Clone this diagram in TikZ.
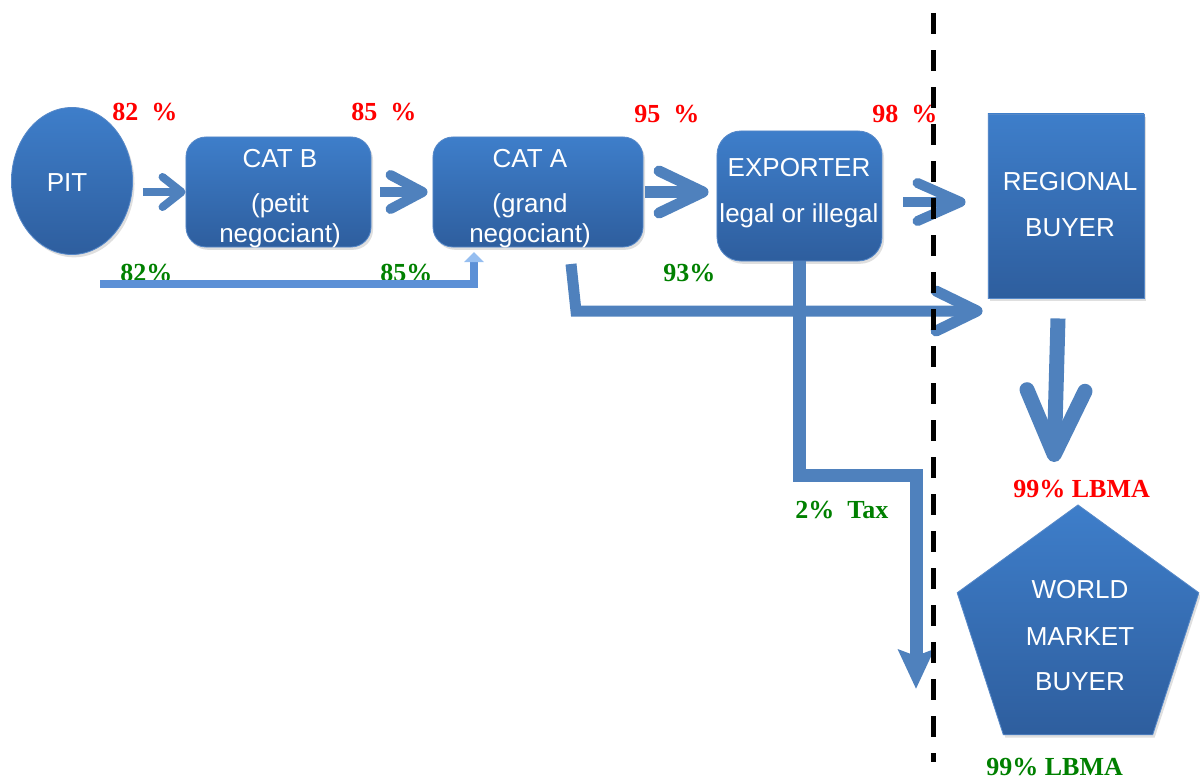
\documentclass[tikz,border=0pt]{standalone}
\usepackage{fontspec}
\setmainfont{Liberation Serif}
\setsansfont{Liberation Sans}
\usetikzlibrary{arrows.meta,shapes.geometric,shadows}

\definecolor{boxtop}{RGB}{62,126,202}
\definecolor{boxbot}{RGB}{46,94,158}
\definecolor{boxline}{RGB}{86,136,200}
\definecolor{flowblue}{RGB}{79,129,189}
\definecolor{lightflow}{RGB}{92,144,214}
\definecolor{lighttip}{RGB}{150,190,240}
\definecolor{pcred}{RGB}{255,0,0}
\definecolor{pcgreen}{RGB}{0,128,0}

\tikzset{
  actor/.style={draw=boxline, line width=0.6pt, top color=boxtop, bottom color=boxbot,
    drop shadow={opacity=0.25, shadow xshift=0.5mm, shadow yshift=-0.7mm}, inner sep=0pt},
  wtxt/.style={text=white, font=\sffamily\fontsize{18.5}{21.3}\selectfont, inner sep=0pt, anchor=base},
  redpc/.style={text=pcred, font=\bfseries\fontsize{18.5}{20}\selectfont, inner sep=0pt, anchor=base west},
  greenpc/.style={redpc, text=pcgreen},
  flowline/.style={draw=flowblue},
}

\begin{document}
\begin{tikzpicture}[x=0.025cm, y=-0.025cm]
\useasboundingbox (0,0) rectangle (1200,781);

% actors
\node[actor, ellipse, minimum width=3.025cm, minimum height=3.675cm] (pit) at (72,181) {};
\node[wtxt] (pittext) at (67,191) {PIT};

\node[actor, rectangle, rounded corners=5mm, minimum width=4.625cm, minimum height=2.75cm] (catb) at (278.5,192) {};
\node[wtxt] (catbtext) at (280,167) {\begin{tabular}[t]{@{}c@{}}CAT B\\[11.4pt](petit\\negociant)\end{tabular}};

\node[actor, rectangle, rounded corners=5mm, minimum width=5.25cm, minimum height=2.75cm] (cata) at (538,192) {};
\node[wtxt] (catatext) at (530,167) {\begin{tabular}[t]{@{}c@{}}CAT A\\[11.4pt](grand\\negociant)\end{tabular}};

\node[actor, rectangle, rounded corners=6mm, minimum width=4.125cm, minimum height=3.25cm] (exporter) at (799.5,196) {};
\node[wtxt] (exportertext) at (799,177) {\begin{tabular}[t]{@{}c@{}}EXPORTER\\[11.4pt]legal or illegal\end{tabular}};

\node[actor, rectangle, minimum width=3.9cm, minimum height=4.6cm] (regional) at (1066,206) {};
\node[wtxt] (regionaltext) at (1070,190) {\begin{tabular}[t]{@{}c@{}}REGIONAL\\[12pt]BUYER\end{tabular}};

\node[actor, regular polygon, regular polygon sides=5, minimum size=6.35cm] (world) at (1078,632) {};
\node[wtxt] (worldtext) at (1080,598) {\begin{tabular}[t]{@{}c@{}}WORLD\\[12.5pt]MARKET\\[11pt]BUYER\end{tabular}};

% free ends
\coordinate (pitline) at (100,284);
\coordinate (catain) at (474,252);
\coordinate (cabot) at (571,264);
\coordinate (cabend) at (576,311);
\coordinate (regin) at ([yshift=1mm]regional.west);
\coordinate (taxbend) at (916,475);
\coordinate (taxend) at (916,689);
\coordinate (rbtop) at ([xshift=-2mm,yshift=-5mm]regional.south);
\coordinate (rbtip) at (1054,462);
\coordinate (bordtop) at (933,13);
\coordinate (bordbot) at (933,762);

% percentages
\node[redpc] (pc82) at (112,121) {82~~\%};
\node[redpc] (pc85) at (351,121) {85~~\%};
\node[redpc] (pc95) at (634,122) {95~~\%};
\node[redpc] (pc98) at (872,122) {98~~\%};
\node[redpc] (lbmared) at (1013,497) {99\% LBMA};

\node[greenpc] (g82) at (120,281) {82\%};
\node[greenpc] (g85) at (380,281) {85\%};
\node[greenpc] (g93) at (663,281) {93\%};
\node[greenpc] (tax) at (795,518) {2\%~~Tax};
\node[greenpc] (lbmagreen) at (986,775) {99\% LBMA};

% flows
\draw[flowline, line width=2mm, -{Straight Barb[length=4.75mm,width=7.5mm,round]}, shorten <=2.5mm] (pit.east |- catb.west) -- (catb.west);
\draw[flowline, line width=2.5mm, -{Straight Barb[length=8mm,width=8.5mm,round]}, shorten <=2.25mm, shorten >=1.25mm] (catb.east) -- (cata.west);
\draw[flowline, line width=2.75mm, -{Straight Barb[length=11mm,width=10.5mm,round]}, shorten <=0.5mm, shorten >=2mm] (cata.east) -- (cata.east -| exporter.west);
\draw[flowline, line width=2.5mm, -{Straight Barb[length=10.75mm,width=9.5mm,round]}, shorten <=5.25mm, shorten >=5.5mm] (regin -| exporter.east) -- (regin);

\draw[draw=lightflow, line width=2mm, -{Triangle[length=2.5mm,width=4.75mm,color=lighttip]}] (pitline) -| (catain);
\draw[flowline, line width=2.75mm, -{Straight Barb[length=10.25mm,width=10mm,round]}, shorten >=1.25mm] (cabot) -- (cabend) -- (cabend -| regional.west);
\draw[flowline, line width=3.25mm, -{Stealth[length=9.75mm,width=8.75mm,inset=1.5mm]}] (exporter.south) |- (taxbend) -- (taxend);
\draw[flowline, line width=3.75mm, -{Straight Barb[length=16mm,width=14.5mm,round]}] (rbtop) -- (rbtip);

% border
\draw[black, line width=1.25mm, dash pattern=on 5.25mm off 4mm] (bordtop) -- (bordbot);

\end{tikzpicture}
\end{document}
